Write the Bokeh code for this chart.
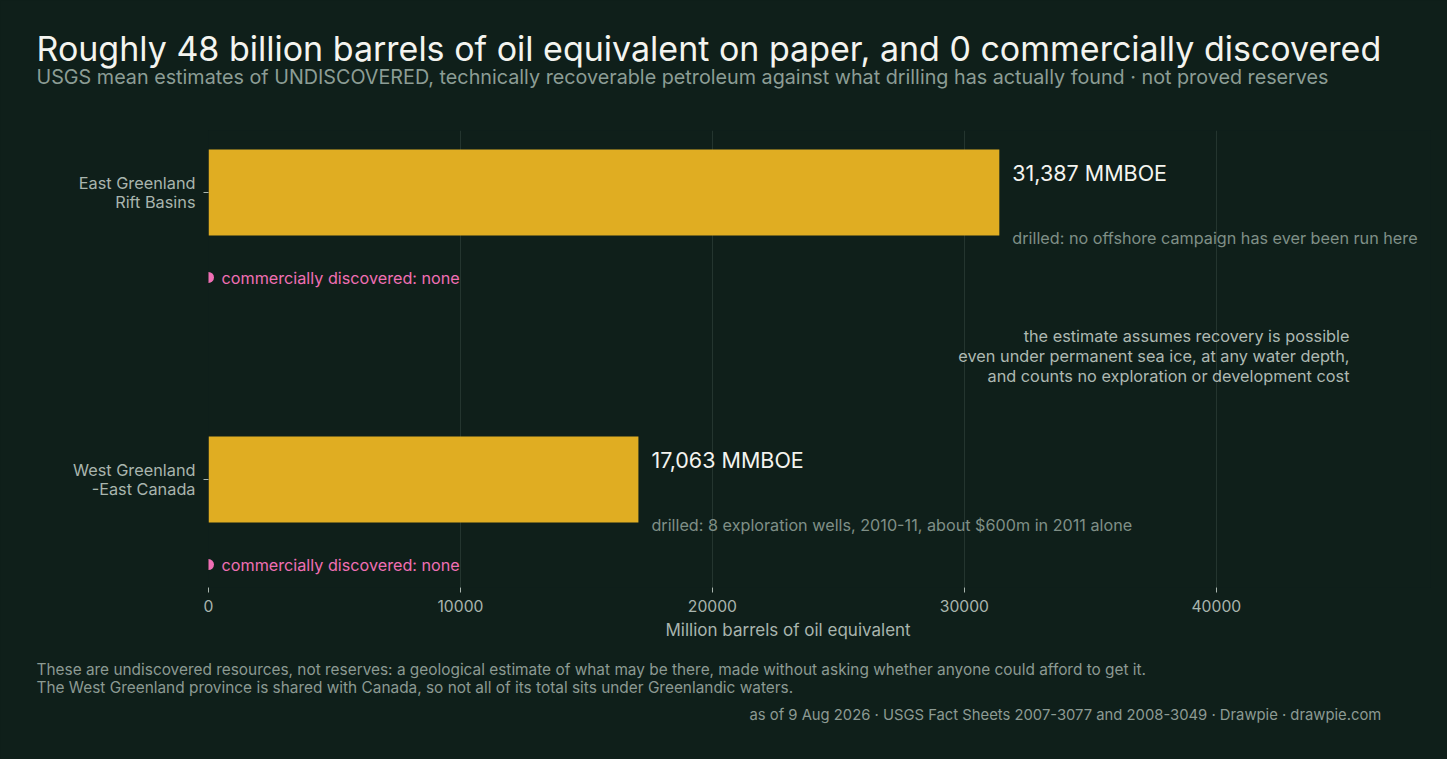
import numpy as np
from bokeh.plotting import figure
from bokeh.models import Title, Label, LabelSet, ColumnDataSource, FixedTicker, Range1d
from bokeh.transform import dodge
from bokeh.core.properties import value
from bokeh.embed import file_html
from bokeh.resources import INLINE

# ---- data (top to bottom) ----
regions = ["East Greenland\nRift Basins", "West Greenland\n-East Canada"]
mmboe = [31387, 17063]
discovered = [0, 0]
drilled = [
    "drilled: no offshore campaign has ever been run here",
    "drilled: 8 exploration wells, 2010-11, about $600m in 2011 alone",
]
x_ticks = [0, 10000, 20000, 30000, 40000]
x_label = "Million barrels of oil equivalent"

title_text = "Roughly 48 billion barrels of oil equivalent on paper, and 0 commercially discovered"
subtitle_text = ("USGS mean estimates of UNDISCOVERED, technically recoverable petroleum "
                 "against what drilling has actually found \u00b7 not proved reserves")
note_text = ("the estimate assumes recovery is possible\n"
             "even under permanent sea ice, at any water depth,\n"
             "and counts no exploration or development cost")
footer1 = ("These are undiscovered resources, not reserves: a geological estimate of what may be there, "
           "made without asking whether anyone could afford to get it.")
footer2 = "The West Greenland province is shared with Canada, so not all of its total sits under Greenlandic waters."
source_text = ("as of 9 Aug 2026  \u00b7  USGS Fact Sheets 2007-3077 and 2008-3049  \u00b7  "
               "Drawpie \u00b7 drawpie.com")

# ---- styles ----
BG = "#0f1f1a"
BAR = "#e0ad22"
PINK = "#f06fb4"
FONT = "Inter"
X_END = 48500

n = len(regions)
ypos = np.arange(n)[::-1].astype(float)

src = ColumnDataSource(dict(
    y=ypos,
    v=mmboe,
    d=discovered,
    disc=["commercially discovered: none" for _ in discovered],
))

p = figure(width=1447, height=759, output_backend="svg", toolbar_location=None,
           x_range=Range1d(0, X_END), y_range=Range1d(-0.376, 1.216),
           background_fill_color=BG, border_fill_color=BG,
           min_border_left=208, min_border_right=17, min_border_top=130, min_border_bottom=172)
p.title = None
p.outline_line_color = None

p.hbar(y="y", right="v", left=0, height=0.3, source=src, fill_color=BAR, line_color=None)
p.scatter(x="d", y=dodge("y", -0.296, range=p.y_range), source=src, size=11,
          fill_color=PINK, line_color=None)

for yy, v, dr in zip(ypos, mmboe, drilled):
    p.add_layout(Label(x=v, y=yy, x_offset=13, y_offset=20, text=f"{v:,} MMBOE",
                       text_font=FONT, text_font_size="21.5px", text_color="#f4f4ef",
                       text_baseline="middle"))
    p.add_layout(Label(x=v, y=yy, x_offset=13, y_offset=-45, text=dr,
                       text_font=FONT, text_font_size="16.2px", text_color="#7f8f87",
                       text_baseline="middle"))

p.add_layout(LabelSet(x="d", y="y", text="disc", source=src, x_offset=13, y_offset=-85,
                      text_font=value(FONT), text_font_size="16.2px", text_color=PINK,
                      text_baseline="middle"))
p.add_layout(Label(x=X_END, y=0.5, x_offset=-81, y_offset=-20, text=note_text,
                   text_font=FONT, text_font_size="16.3px", text_color="#aeb9b2",
                   text_align="right", text_baseline="middle", text_line_height=1.0))

# axes
p.xaxis.ticker = FixedTicker(ticks=x_ticks)
p.xaxis.major_label_text_font = FONT
p.xaxis.major_label_text_font_size = "15.7px"
p.xaxis.major_label_text_color = "#a9b5ae"
p.xaxis.major_label_standoff = 7
p.xaxis.axis_line_color = None
p.xaxis.major_tick_in = 0
p.xaxis.major_tick_out = 5
p.xaxis.major_tick_line_color = "#a9b5ae"
p.xaxis.minor_tick_line_color = None

p.yaxis.ticker = FixedTicker(ticks=list(ypos))
p.yaxis.major_label_overrides = {float(y): r for y, r in zip(ypos, regions)}
p.yaxis.major_label_text_font = FONT
p.yaxis.major_label_text_font_size = "16.3px"
p.yaxis.major_label_text_line_height = 0.95
p.yaxis.major_label_text_color = "#a9b5ae"
p.yaxis.major_label_standoff = 8
p.yaxis.axis_line_color = None
p.yaxis.major_tick_in = 0
p.yaxis.major_tick_out = 5
p.yaxis.major_tick_line_color = "#a9b5ae"
p.yaxis.minor_tick_line_color = None

p.ygrid.grid_line_color = None
p.xgrid.grid_line_color = "#24352f"

def spacer(gap):
    return Title(text=" ", text_font_size="1px", standoff=gap, text_color=BG)

# titles (first added sits closest to the plot)
p.add_layout(spacer(39), "above")
p.add_layout(Title(text=subtitle_text, align="left", offset=-172, standoff=0,
                   text_font=FONT, text_font_size="19.75px", text_font_style="normal",
                   text_color="#8c9d95"), "above")
p.add_layout(Title(text=title_text, align="left", offset=-172, standoff=-12,
                   text_font=FONT, text_font_size="34px", text_font_style="normal",
                   text_color="#f4f4ef"), "above")

# x-axis title, placed under the tick labels
p.add_layout(Title(text=x_label, align="left", offset=457, standoff=6,
                   text_font=FONT, text_font_size="17px", text_font_style="normal",
                   text_color="#a9b5ae"), "below")
p.add_layout(spacer(12), "below")
p.add_layout(Title(text=footer1, align="left", offset=-172, standoff=0,
                   text_font=FONT, text_font_size="15.4px", text_font_style="normal",
                   text_color="#8c9a93"), "below")
p.add_layout(Title(text=footer2, align="left", offset=-172, standoff=-6,
                   text_font=FONT, text_font_size="15.4px", text_font_style="normal",
                   text_color="#8c9a93"), "below")
p.add_layout(Title(text=source_text, align="left", offset=541, standoff=20,
                   text_font=FONT, text_font_size="14.8px", text_font_style="normal",
                   text_color="#8c9a93"), "below")

html = file_html(p, INLINE)
html = html.replace("</head>", "<style>html,body{background-color:%s;}</style></head>" % BG, 1)
open("out.html", "w").write(html)
